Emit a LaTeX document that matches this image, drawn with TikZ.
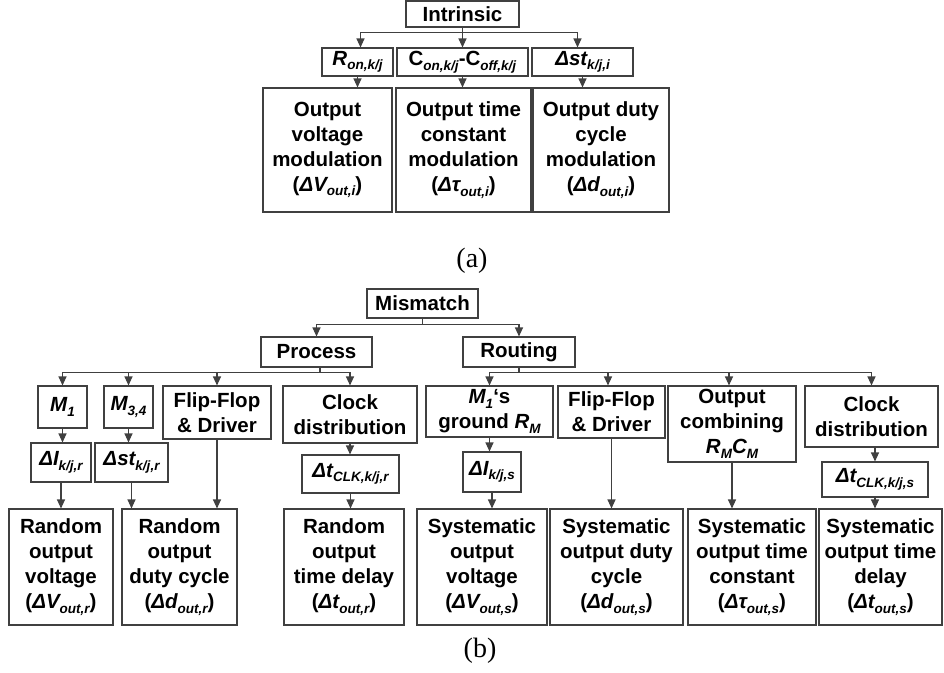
\documentclass[tikz,border=0pt]{standalone}
\usepackage{fontspec}
\setmainfont{Liberation Sans}
\newfontfamily\lblfont{Liberation Serif}
\usetikzlibrary{arrows.meta,calc}
\newcommand\sbs[1]{\raisebox{-4.5pt}{\fontsize{13.5}{13.5}\selectfont #1}}
\begin{document}
\begin{tikzpicture}[x=1pt,y=-1pt,
  box/.style={draw=black!75, line width=1.1pt, inner sep=0pt, align=center,
    font=\fontsize{20.5}{25}\selectfont\bfseries, text=black},
  sz/.style 2 args={minimum width=#1pt, minimum height=#2pt},
  ln/.style={draw=black!75, line width=1.1pt},
  arr/.style={ln, -{Triangle[length=9pt,width=8pt]}},
  lbl/.style={font=\lblfont\fontsize{28}{30}\selectfont, inner sep=0pt}]
\useasboundingbox (0,0) rectangle (944,672);

% ---------- (a) ----------
\node[box, sz={113}{26}] (intr) at (462.5,14) {Intrinsic};
\node[box, sz={71}{28}] (ron) at (357.5,62) {\textit{R\sbs{on,k/j}}};
\node[box, sz={131}{28}] (con) at (462.5,62) {C\sbs{\textit{on,k/j}}-C\sbs{\textit{off,k/j}}};
\node[box, sz={101}{28}] (dst) at (582.5,62) {\textit{Δst\sbs{k/j,i}}};
\node[box, sz={129}{124}] (ovm) at (327.5,150) {Output\\voltage\\modulation\\(\textit{ΔV\sbs{out,i}})};
\node[box, sz={135}{124}] (otc) at (463.5,150) {Output time\\constant\\modulation\\(\textit{Δτ\sbs{out,i}})};
\node[box, sz={136}{124}] (odc) at (601,150) {Output duty\\cycle\\modulation\\(\textit{Δd\sbs{out,i}})};
\node[lbl] (la) at (472,261) {(a)};

\draw[ln] (intr.south) -- ++(0,5) coordinate (ba);
\draw[arr] (ba) -| ([xshift=3pt]ron.north);
\draw[arr] (ba) -| (con.north);
\draw[arr] (ba) -| ([xshift=-5pt]dst.north);
\draw[arr] (ron.south) -- (ron.south |- ovm.north);
\draw[arr] (con.south) -- (con.south |- otc.north);
\draw[arr] (dst.south) -- (dst.south |- odc.north);

% ---------- (b) ----------
\node[box, sz={111}{29}] (mism) at (422.5,303.5) {Mismatch};
\node[box, sz={111}{30}] (proc) at (316.5,352) {Process};
\node[box, sz={112}{30}] (rout) at (519,352) {Routing};

\node[box, sz={49}{42}] (m1) at (62.5,407) {\textit{M\sbs{1}}};
\node[box, sz={49}{42}] (m34) at (128.5,407) {\textit{M\sbs{3,4}}};
\node[box, sz={108}{53}] (ff1) at (217,412.5) {Flip-Flop\\\& Driver};
\node[box, sz={134}{57}] (clk1) at (350,414.5) {Clock\\distribution};
\node[box, sz={127}{51}] (mg) at (489.5,411.5) {\textit{M\sbs{1}}‘s\\ground \textit{R\sbs{M}}};
\node[box, sz={107}{52}] (ff2) at (611.5,412) {Flip-Flop\\\& Driver};
\node[box, sz={128}{76}] (oc) at (732,424) {Output\\combining\\\textit{R\sbs{M}C\sbs{M}}};
\node[box, sz={133}{61}] (clk2) at (871.5,416.5) {Clock\\distribution};

\node[box, sz={60}{39}] (dir) at (61,462.5) {\textit{ΔI\sbs{k/j,r}}};
\node[box, sz={73}{39}] (dstr) at (131.5,462.5) {\textit{Δst\sbs{k/j,r}}};
\node[box, sz={97}{38}] (dtr) at (350.5,474) {\textit{Δt\sbs{CLK,k/j,r}}};
\node[box, sz={58}{40}] (dis) at (492,472) {\textit{ΔI\sbs{k/j,s}}};
\node[box, sz={106}{35}] (dts) at (875,479.5) {\textit{Δt\sbs{CLK,k/j,s}}};

\node[box, sz={104}{116}] (rv) at (61,567) {Random\\output\\voltage\\(\textit{ΔV\sbs{out,r}})};
\node[box, sz={115}{116}] (rd) at (179.5,567) {Random\\output\\duty cycle\\(\textit{Δd\sbs{out,r}})};
\node[box, sz={120}{116}] (rt) at (344,567) {Random\\output\\time delay\\(\textit{Δt\sbs{out,r}})};
\node[box, sz={130}{116}] (sv) at (482,567) {Systematic\\output\\voltage\\(\textit{ΔV\sbs{out,s}})};
\node[box, sz={133}{116}] (sd) at (616.5,567) {Systematic\\output duty\\cycle\\(\textit{Δd\sbs{out,s}})};
\node[box, sz={128}{116}] (st) at (752,567) {Systematic\\output time\\constant\\(\textit{Δτ\sbs{out,s}})};
\node[box, sz={123}{116}] (sdl) at (880.5,567) {Systematic\\output time\\delay\\(\textit{Δt\sbs{out,s}})};
\node[lbl] (lb) at (480,651) {(b)};

\draw[ln] (mism.south) -- ++(0,6) coordinate (bm);
\draw[arr] (bm) -| (proc.north);
\draw[arr] (bm) -| (rout.north);
\draw[ln] ([xshift=3.5pt]proc.south) -- ++(0,5) coordinate (bp);
\draw[arr] (bp) -| (m1.north);
\draw[arr] (bp) -| (m34.north);
\draw[arr] (bp) -| (ff1.north);
\draw[arr] (bp) -| (clk1.north);
\draw[ln] (rout.south) -- ++(0,5) coordinate (br);
\draw[arr] (br) -| (mg.north);
\draw[arr] (br) -| ([xshift=-3.5pt]ff2.north);
\draw[arr] (br) -| ([xshift=-3pt]oc.north);
\draw[arr] (br) -| (clk2.north);

\draw[arr] (m1.south) -- (m1.south |- dir.north);
\draw[arr] (dir.south) -- (dir.south |- rv.north);
\draw[arr] (m34.south) -- (m34.south |- dstr.north);
\draw[arr] (dstr.south) -- (dstr.south |- rd.north);
\draw[arr] (ff1.south) -- (ff1.south |- rd.north);
\draw[arr] (clk1.south) -- (clk1.south |- dtr.north);
\draw[arr] (dtr.south) -- (dtr.south |- rt.north);
\draw[arr] (mg.south) -- (mg.south |- dis.north);
\draw[arr] (dis.south) -- (dis.south |- sv.north);
\draw[arr] (ff2.south) -- (ff2.south |- sd.north);
\draw[arr] (oc.south) -- (oc.south |- st.north);
\draw[arr] ([xshift=3.5pt]clk2.south) -- ([xshift=3.5pt]clk2.south |- dts.north);
\draw[arr] (dts.south) -- (dts.south |- sdl.north);
\end{tikzpicture}
\end{document}
